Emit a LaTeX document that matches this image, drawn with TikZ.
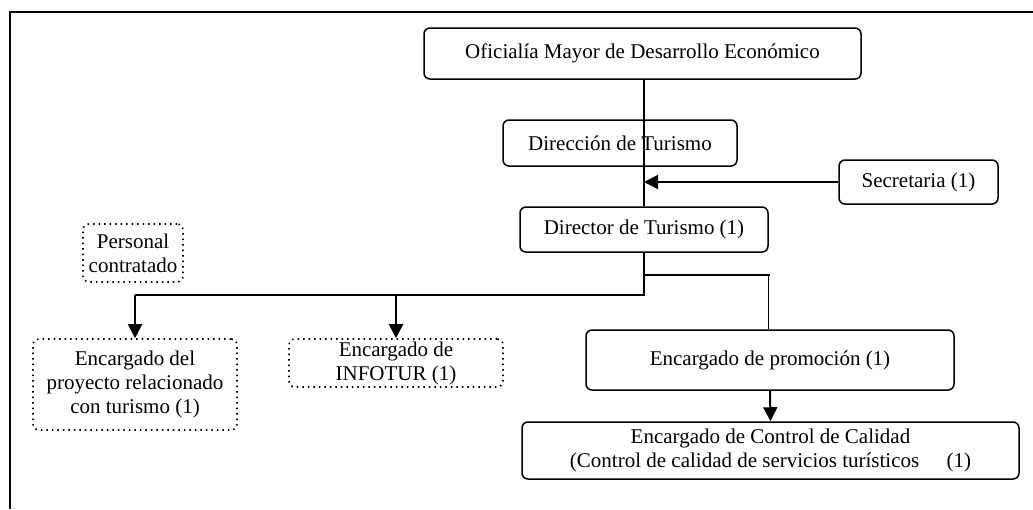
\documentclass[tikz,border=0pt]{standalone}
\usepackage{fontspec}
\setmainfont{Liberation Serif}
\usetikzlibrary{arrows.meta}
\tikzset{
  caja/.style={draw, line width=0.75pt, rounded corners=3pt, align=center, inner sep=0pt},
  cajapunt/.style={caja, dotted, line width=0.8pt},
  linea/.style={line width=0.75pt},
  flecha/.style={line width=1pt, -{Triangle[length=7pt,width=7pt]}},
}
\begin{document}
\begin{tikzpicture}[x=0.5pt, y=-0.5pt, font=\fontsize{10.5}{12}\selectfont]
\useasboundingbox (0,0) rectangle (1033,509);
% marco
\draw[line width=1pt] (1033,12) -- (10,12) -- (10,509);
% cajas
\node[caja, minimum width=218.5pt, minimum height=25.5pt] (ofi) at (642.5,53.5) {Oficialía Mayor de Desarrollo Económico};
\node[caja, minimum width=117pt, minimum height=23pt] (dir) at (620,143) {Dirección de Turismo};
\node[caja, minimum width=79.5pt, minimum height=22pt] (sec) at (918.5,182) {Secretaria (1)};
\node[caja, minimum width=124pt, minimum height=22.5pt] (dtor) at (644,229.5) {Director de Turismo (1)};
\node[cajapunt, minimum width=50pt, minimum height=29pt] (pers) at (133,253) {Personal\\contratado};
\node[cajapunt, minimum width=102pt, minimum height=45.5pt] (proy) at (135,384.5) {Encargado del\\proyecto relacionado\\con turismo (1)};
\node[cajapunt, minimum width=107pt, minimum height=24pt] (info) at (396,363) {Encargado de\\INFOTUR (1)};
\node[caja, minimum width=184pt, minimum height=30pt] (prom) at (770,360) {Encargado de promoción (1)};
\node[caja, minimum width=248.5pt, minimum height=28.5pt] (cal) at (770.5,450.5) {Encargado de Control de Calidad\\(Control de calidad de servicios turísticos\hspace{1.3em}(1)};
% conexiones
\coordinate (b1) at (644,295);
\coordinate (b2) at (644,275);
\coordinate (b3) at (770,275);
\draw[linea] (ofi.south -| dtor.north) -- (dir.south -| dtor.north);
\draw[linea] (dir.south -| dtor.north) -- (dtor.north);
\draw[flecha] (sec.west) -- (sec.west -| dtor.north);
\draw[line width=1pt] (dtor.south) -- (b1) -- (b1 -| proy.north);
\draw[flecha] (b1 -| proy.north) -- (proy.north);
\draw[flecha] (b1 -| info.north) -- (info.north);
\draw[linea] (b2) -- (b3);
\draw[linea] (b3 -| prom.north) ++(-1.5,0) -- ([xshift=-0.75pt]prom.north);
\draw[flecha] (prom.south) -- (cal.north);
\end{tikzpicture}
\end{document}
